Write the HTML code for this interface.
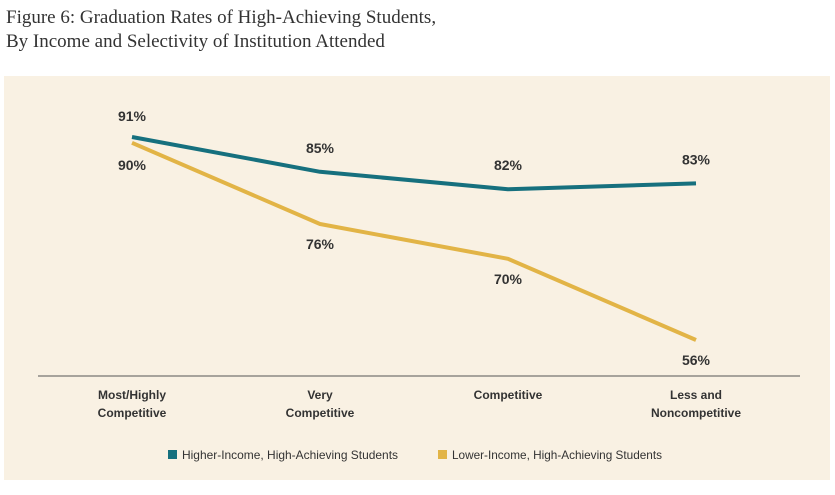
<!DOCTYPE html>
<html><head><meta charset="utf-8"><style>
body{margin:0;width:835px;height:495px;background:#fff;overflow:hidden;position:relative;font-family:"Liberation Sans",sans-serif}
#title{position:absolute;left:6px;top:6px;font-family:"Liberation Serif",serif;font-size:19px;line-height:24px;color:#333}
#panel{position:absolute;left:4px;top:76px;width:826px;height:404px;background:#f9f1e3}
svg{position:absolute;left:0;top:0}
text{font-family:"Liberation Sans",sans-serif;font-weight:bold;fill:#333}
text.leg{font-weight:normal}
</style></head><body>
<div id="title">Figure 6: Graduation Rates of High-Achieving Students,<br>By Income and Selectivity of Institution Attended</div>
<div id="panel"></div>
<svg id="chart" width="835" height="495"></svg>
<script>
const categories=[["Most/Highly","Competitive"],["Very","Competitive"],["Competitive"],["Less and","Noncompetitive"]];
const higherIncome=[91,85,82,83];
const lowerIncome=[90,76,70,56];
const seriesNames=["Higher-Income, High-Achieving Students","Lower-Income, High-Achieving Students"];
const NS="http://www.w3.org/2000/svg";
const svg=document.getElementById('chart');
const x=i=>132+i*188;
const y=v=>340-(v-56)*5.8;
function mk(t,a,p){const e=document.createElementNS(NS,t);for(const k in a)e.setAttribute(k,a[k]);(p||svg).appendChild(e);return e;}
const axis=mk('line',{x1:38,x2:800,y1:376,y2:376,stroke:'#555','stroke-width':1});


categories.forEach((c,i)=>{
  c.forEach((s,j)=>{
    const t=mk('text',{x:x(i),y:399+j*18,'text-anchor':'middle','font-size':12});
    t.textContent=s;
    
    
  });
});
function lin(vals){return 'M'+vals.map((v,i)=>x(i)+','+y(v)).join(' L');}
const gold=mk('path',{d:lin(lowerIncome),fill:'none',stroke:'#e2b446','stroke-width':4,'stroke-linejoin':'round'});


const teal=mk('path',{d:lin(higherIncome),fill:'none',stroke:'#16707e','stroke-width':4,'stroke-linejoin':'round'});


higherIncome.forEach((v,i)=>{
  const t=mk('text',{x:x(i),y:y(v)-(i==0?16:19),'text-anchor':'middle','font-size':14});
  t.textContent=v+'%';
  
  
});
lowerIncome.forEach((v,i)=>{
  const t=mk('text',{x:x(i),y:y(v)+(i==0?27:25),'text-anchor':'middle','font-size':14});
  t.textContent=v+'%';
  
  
});
const legX=[168,438],legW=[216,210],cols=['#16707e','#e2b446'];
seriesNames.forEach((n,i)=>{
  const r=mk('rect',{x:legX[i],y:450,width:9,height:9,fill:cols[i]});
  
  
  const t=mk('text',{x:legX[i]+14,y:459,'font-size':12,'class':'leg',textLength:legW[i],lengthAdjust:'spacingAndGlyphs'});
  t.textContent=n;
  
  
});
</script>
</body></html>
